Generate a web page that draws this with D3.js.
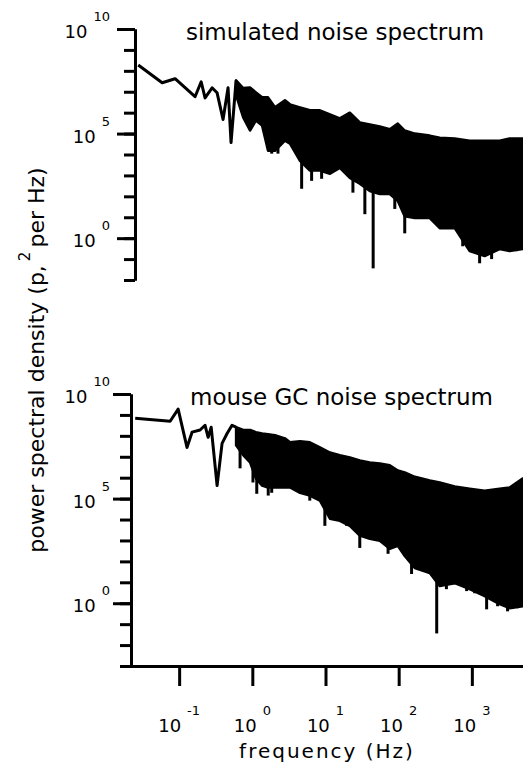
<!DOCTYPE html>
<html>
<head>
<meta charset="utf-8">
<script src="https://cdn.jsdelivr.net/npm/d3@7"></script>
<style>
  body { margin: 0; background: #fff; }
  svg { display: block; }
  text { font-family: "DejaVu Sans", sans-serif; fill: #000; }
</style>
</head>
<body>
<svg id="chart" width="523" height="772"></svg>
<script>
// ---- data -------------------------------------------------------------
// Axis decades
const xTickExponents = [-1, 0, 1, 2, 3];
const yLabelExponents = [10, 5, 0];

// Simulated noise spectrum: resolved low-frequency trace (Hz, pA^2/Hz)
const simTraceFreq  = [0.0276, 0.0586, 0.088, 0.165, 0.2, 0.226, 0.282, 0.33, 0.398, 0.466, 0.512, 0.6];
const simTraceValue = [1.9e8, 2.7e7, 4.2e7, 5.8e6, 3.0e7, 5.1e6, 1.55e7, 8.9e6, 4.7e5, 1.55e7, 3.7e4, 3.5e7];

// Frequencies at which the dense part of each spectrum is sampled (Hz)
const bandFreq = [0.6, 0.75, 0.93, 1.12, 1.36, 1.64, 2.04, 2.79, 3.27, 4.48, 6.12, 8.39, 11.5, 15.7, 21.5,
                  29.4, 40.3, 55.2, 75.6, 97.3, 121, 166, 266, 364, 583, 933, 1496, 2395, 3279, 4935];

// Simulated spectrum: upper and lower envelope of the dense band
const simUpper = [3.5e7, 1.5e7, 1.6e7, 9.3e6, 5.4e6, 5.4e6, 1.8e6, 3.9e6, 2.5e6, 1.8e6, 1.3e6, 1.3e6, 8.2e5, 5.3e5, 1.0e6,
                  3.4e5, 2.7e5, 2.2e5, 1.6e5, 3.0e5, 1.4e5, 1.0e5, 8.0e4, 6.4e4, 5.8e4, 4.6e4, 4.6e4, 4.6e4, 5.8e4, 5.8e4];
const simLower = [6.7e6, 5.9e5, 1.4e5, 4.2e5, 2.4e5, 1.5e4, 1.5e4, 4.6e4, 3.3e4, 5.0e3, 1.7e3, 1.7e3, 1.2e3, 2.3e3, 7.6e2,
                  4.0e2, 1.8e2, 1.3e2, 1.3e2, 60, 11, 9.1, 9.1, 3.0, 3.0, 0.24, 0.14, 0.30, 0.24, 0.30];
// Simulated spectrum: isolated deep minima
const simSpikeFreq  = [1.84, 2.24, 4.72, 6.46, 8.85, 23.7, 34.5, 44.8, 88.5, 121, 621, 750, 933, 1277, 1592, 1862, 2249, 2985, 4083];
const simSpikeValue = [1.1e4, 1.1e4, 230, 550, 690, 150, 14, 0.036, 25, 1.7, 3.0, 0.41, 0.30, 0.063, 0.51, 0.1, 0.33, 0.51, 0.24];

// Mouse GC noise spectrum: resolved low-frequency trace
const gcTraceFreq  = [0.0251, 0.0753, 0.0969, 0.128, 0.150, 0.193, 0.226, 0.249, 0.274, 0.330, 0.386, 0.452, 0.528, 0.6];
const gcTraceValue = [7.0e8, 5.0e8, 1.9e9, 2.8e7, 1.5e8, 1.9e8, 3.2e8, 8.5e7, 2.6e8, 4.2e5, 4.4e7, 1.3e8, 3.2e8, 2.6e8];

// Mouse GC spectrum: dense band envelopes
const gcUpper = [2.6e8, 1.9e8, 1.9e8, 1.5e8, 1.3e8, 1.2e8, 1.07e8, 7.6e7, 4.9e7, 5.5e7, 4.9e7, 2.8e7, 1.6e7, 1.2e7, 9.3e6,
                 6.7e6, 5.4e6, 4.8e6, 3.9e6, 2.2e6, 1.8e6, 1.1e6, 7.4e5, 5.9e5, 3.8e5, 3.0e5, 2.4e5, 3.0e5, 3.4e5, 9.1e5];
const gcLower = [3.5e7, 1.2e7, 5.4e6, 9.1e5, 4.2e5, 3.4e5, 3.4e5, 3.4e5, 3.4e5, 1.9e5, 1.4e5, 8.0e4, 1.1e4, 8.7e3, 5.0e3,
                 1.7e3, 1.2e3, 9.6e2, 4.0e2, 5.5e2, 1.8e2, 48, 28, 6.6, 9.1, 4.7, 2.2, 0.9, 0.58, 0.72];
// Mouse GC spectrum: isolated deep minima
const gcSpikeFreq  = [0.68, 1.02, 1.15, 1.65, 1.84, 6.1, 9.8, 14.9, 19.4, 29.4, 38.3, 49.8, 71.6, 150, 205, 266, 331,
                      449, 525, 719, 849, 1092, 1592, 2249, 3076, 4217];
const gcSpikeValue = [2.8e6, 5.9e5, 1.7e5, 1.4e5, 1.9e5, 8e4, 5e3, 8.7e3, 5e3, 440, 2.3e3, 1.2e3, 230, 25, 43, 25, 0.036,
                      4.7, 14, 11, 3.8, 3.0, 0.51, 0.72, 0.41, 0.58];

// ---- layout -----------------------------------------------------------
const svg = d3.select("#chart");
const x = d3.scaleLog().domain([0.02, 5000]).range([128, 523]);

const panels = [
  { title: "simulated noise spectrum", titleX: 186, titleY: 40, axisX: 135,
    y: d3.scaleLog().domain([1e-2, 1e10]).range([280, 29]),
    traceF: simTraceFreq, traceV: simTraceValue, upper: simUpper, lower: simLower,
    spikeF: simSpikeFreq, spikeV: simSpikeValue },
  { title: "mouse GC noise spectrum", titleX: 190, titleY: 405, axisX: 131,
    y: d3.scaleLog().domain([1e-3, 1e10]).range([666, 394]),
    traceF: gcTraceFreq, traceV: gcTraceValue, upper: gcUpper, lower: gcLower,
    spikeF: gcSpikeFreq, spikeV: gcSpikeValue }
];

const ink = "#000";

panels.forEach(p => {
  const g = svg.append("g");
  const y = p.y;
  const [dMin, dMax] = y.domain();
  const decades = d3.range(Math.log10(dMin), Math.log10(dMax) + 1).map(e => Math.pow(10, e));

  // dense band of the spectrum
  const band = bandFreq.map((f, i) => ({ f, hi: p.upper[i], lo: p.lower[i] }));
  g.append("path")
    .datum(band)
    .attr("d", d3.area().x(d => x(d.f)).y0(d => y(d.lo)).y1(d => y(d.hi)))
    .attr("fill", ink).attr("stroke", ink).attr("stroke-width", 2.5)
    .attr("stroke-linejoin", "round");

  // low-frequency trace
  const trace = p.traceF.map((f, i) => ({ f, v: p.traceV[i] }));
  g.append("path")
    .datum(trace)
    .attr("d", d3.line().x(d => x(d.f)).y(d => y(d.v)))
    .attr("fill", "none").attr("stroke", ink).attr("stroke-width", 3)
    .attr("stroke-linejoin", "round");

  // deep minima drawn down from inside the band
  const lowerEdge = d3.scaleLog().domain(bandFreq).range(bandFreq.map((f, i) => y(p.lower[i]))).clamp(true);
  g.selectAll("line.spike")
    .data(p.spikeF.map((f, i) => ({ f, v: p.spikeV[i] })))
    .join("line")
    .attr("class", "spike")
    .attr("x1", d => x(d.f)).attr("x2", d => x(d.f))
    .attr("y1", d => lowerEdge(d.f) - 6).attr("y2", d => y(d.v))
    .attr("stroke", ink).attr("stroke-width", 3);

  // y axis: minor ticks every decade, longer ticks at labelled decades
  const minor = g.append("g").attr("transform", `translate(${p.axisX},0)`)
    .call(d3.axisLeft(y).tickValues(decades).tickSize(11).tickSizeOuter(0).tickFormat(""));
  const major = g.append("g").attr("transform", `translate(${p.axisX},0)`)
    .call(d3.axisLeft(y).tickValues(yLabelExponents.map(e => Math.pow(10, e))).tickSize(18).tickSizeOuter(0).tickFormat(""));
  [minor, major].forEach(a => {
    a.selectAll("path, line").attr("stroke", ink).attr("stroke-width", 3);
  });

  // y tick labels with superscript exponents
  yLabelExponents.forEach(e => {
    const t = g.append("text")
      .attr("x", 110).attr("y", y(Math.pow(10, e)) + 9)
      .attr("text-anchor", "end");
    t.append("tspan").attr("font-size", 18).text("10");
    t.append("tspan").attr("font-size", 13).attr("dx", 6).attr("dy", -17).text(e);
  });

  // panel title
  g.append("text")
    .attr("x", p.titleX).attr("y", p.titleY)
    .attr("font-size", 23)
    .text(p.title);
});

// shared frequency axis under the lower panel
const axisY = 666;
const xAxis = svg.append("g").attr("transform", `translate(0,${axisY})`)
  .call(d3.axisBottom(x).tickValues(xTickExponents.map(e => Math.pow(10, e))).tickSize(20).tickSizeOuter(0).tickFormat(""));
xAxis.selectAll("path, line").attr("stroke", ink).attr("stroke-width", 3);
// baseline of the frequency axis
const [xr0, xr1] = x.range();
svg.append("line")
  .attr("x1", xr0).attr("x2", xr1)
  .attr("y1", axisY + 0.5).attr("y2", axisY + 0.5)
  .attr("stroke", ink).attr("stroke-width", 3);

xTickExponents.forEach(e => {
  const t = svg.append("text")
    .attr("x", x(Math.pow(10, e))).attr("y", 732)
    .attr("text-anchor", "middle");
  t.append("tspan").attr("font-size", 18).text("10");
  t.append("tspan").attr("font-size", 13).attr("dx", 6).attr("dy", -17).text(e);
});

svg.append("text")
  .attr("x", 327).attr("y", 758)
  .attr("text-anchor", "middle")
  .attr("font-size", 20)
  .attr("letter-spacing", 2)
  .text("frequency (Hz)");

// y-axis title
const yTitle = svg.append("text")
  .attr("transform", "translate(44,360) rotate(-90)")
  .attr("text-anchor", "middle")
  .attr("font-size", 22);
yTitle.append("tspan").text("power spectral density (p,");
yTitle.append("tspan").attr("font-size", 15).attr("dx", 4).attr("dy", -14).text("2");
yTitle.append("tspan").attr("dx", 4).attr("dy", 14).text("per Hz)");
</script>
</body>
</html>
